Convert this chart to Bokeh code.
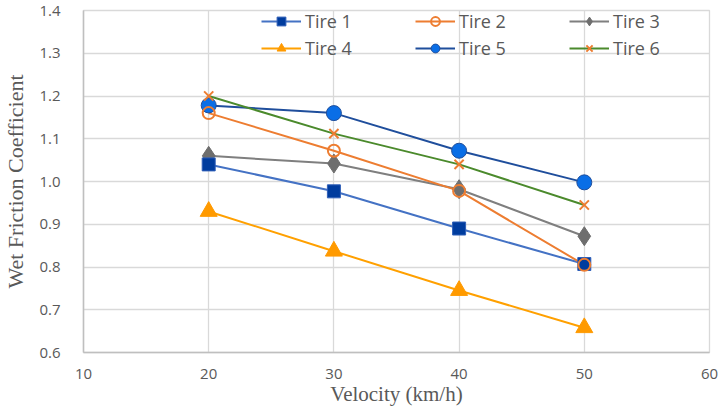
from bokeh.plotting import figure
from bokeh.models import Legend, LegendItem, NumeralTickFormatter, FixedTicker
from bokeh.embed import file_html
from bokeh.resources import INLINE

# Velocity (km/h) and wet friction coefficient per tire
velocity = [20, 30, 40, 50]
tire1 = [1.04, 0.977, 0.89, 0.807]
tire2 = [1.16, 1.072, 0.978, 0.805]
tire3 = [1.06, 1.042, 0.982, 0.872]
tire4 = [0.93, 0.837, 0.745, 0.658]
tire5 = [1.178, 1.16, 1.072, 0.998]
tire6 = [1.2, 1.112, 1.04, 0.945]

names = ["Tire 1", "Tire 2", "Tire 3", "Tire 4", "Tire 5", "Tire 6"]
x_ticks = [10, 20, 30, 40, 50, 60]
y_ticks = [0.6, 0.7, 0.8, 0.9, 1.0, 1.1, 1.2, 1.3, 1.4]

FONT = "Open Sans"
SERIF = "Liberation Serif"
TXT = "#595959"

p = figure(width=721, height=408, x_range=(10, 60), y_range=(0.6, 1.4),
           output_backend="svg", toolbar_location=None,
           min_border_left=83, min_border_right=12, min_border_top=10,
           min_border_bottom=53)
p.background_fill_color = "white"
p.border_fill_color = "white"
p.outline_line_color = "#d9d9d9"
p.outline_line_width = 1.3

p.xaxis.ticker = FixedTicker(ticks=x_ticks)
p.yaxis.ticker = FixedTicker(ticks=y_ticks)
p.yaxis.formatter = NumeralTickFormatter(format="0.0")
for ax in (p.xaxis[0], p.yaxis[0]):
    ax.major_tick_line_color = None
    ax.minor_tick_line_color = None
    ax.axis_line_color = "#bfbfbf"
    ax.axis_line_width = 1.5
    ax.major_label_text_font = FONT
    ax.major_label_text_font_size = "15px"
    ax.major_label_text_color = TXT
    ax.axis_label_text_font = SERIF
    ax.axis_label_text_font_style = "normal"
    ax.axis_label_text_color = TXT
p.yaxis.axis_label = "Wet Friction Coefficient"
p.yaxis.axis_label_text_font_size = "22px"
p.yaxis.major_label_standoff = 17
p.yaxis.axis_label_standoff = 8
p.xaxis.axis_label = "Velocity (km/h)"
p.xaxis.axis_label_text_font_size = "21px"
p.xaxis.major_label_standoff = 10
p.xaxis.axis_label_standoff = 0

p.xgrid.grid_line_color = "#d9d9d9"
p.ygrid.grid_line_color = "#d9d9d9"
p.xgrid.grid_line_width = 1.3
p.ygrid.grid_line_width = 1.3

# Lines first, markers on top
l1 = p.line(velocity, tire1, line_color="#4472c4", line_width=2)
l3 = p.line(velocity, tire3, line_color="#7f7f7f", line_width=2)
l4 = p.line(velocity, tire4, line_color="#ffa000", line_width=2)
l5 = p.line(velocity, tire5, line_color="#1f4e9c", line_width=2)
l6 = p.line(velocity, tire6, line_color="#4b8a2c", line_width=2)
l2 = p.line(velocity, tire2, line_color="#ed7d31", line_width=2)

m3 = p.scatter(velocity, tire3, marker="diamond", size=19,
               fill_color="#6e6e6e", line_color="#6e6e6e")
m4 = p.scatter(velocity, tire4, marker="triangle", size=17,
               fill_color="#ff9a00", line_color="#ff9a00")
m5 = p.scatter(velocity, tire5, marker="circle", size=15,
               fill_color="#0a6ee6", line_color="#1f4e9c", line_width=1)
m6 = p.scatter(velocity, tire6, marker="x", size=13,
               line_color="#ed7d31", line_width=2)
m1 = p.scatter(velocity, tire1, marker="square", size=13,
               fill_color="#003c9e", line_color="#2f5fb8", line_width=1)
m2 = p.scatter(velocity, tire2, marker="circle", size=12,
               fill_color=None, line_color="#ed7d31", line_width=2)

items = [
    LegendItem(label=names[0], renderers=[l1, m1]),
    LegendItem(label=names[1], renderers=[l2, m2]),
    LegendItem(label=names[2], renderers=[l3, m3]),
    LegendItem(label=names[3], renderers=[l4, m4]),
    LegendItem(label=names[4], renderers=[l5, m5]),
    LegendItem(label=names[5], renderers=[l6, m6]),
]

# Two rows of three entries, no box, across the top of the plot area
legend = Legend(items=items, orientation="horizontal", ncols=3,
                location=(178, 292), background_fill_alpha=0,
                border_line_alpha=0, glyph_width=40, glyph_height=22,
                label_text_font=FONT, label_text_font_size="18px",
                label_text_color=TXT, label_standoff=4, label_height=22,
                label_width=107, spacing=3, padding=0, margin=0)
p.add_layout(legend, "center")

open("out.html", "w").write(file_html(p, INLINE))
